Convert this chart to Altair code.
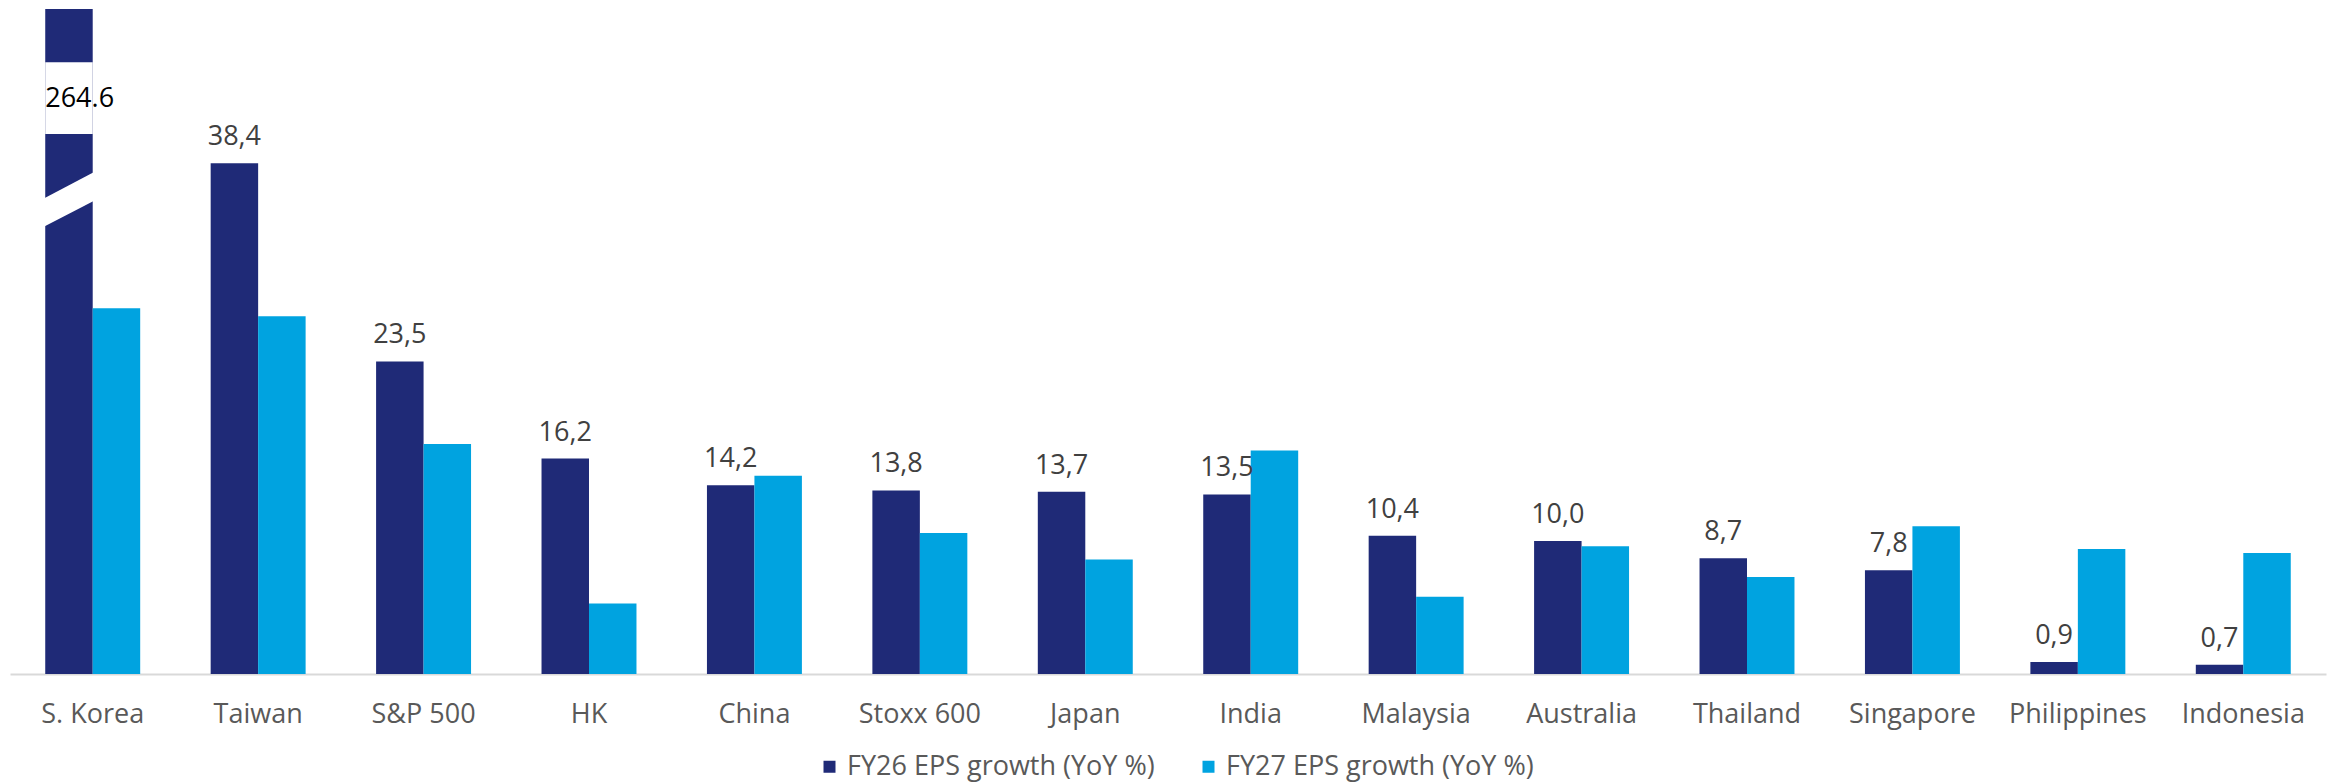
import altair as alt
import pandas as pd

countries = ["S. Korea", "Taiwan", "S&P 500", "HK", "China", "Stoxx 600", "Japan",
             "India", "Malaysia", "Australia", "Thailand", "Singapore", "Philippines", "Indonesia"]
fy26 = [264.6, 38.4, 23.5, 16.2, 14.2, 13.8, 13.7, 13.5, 10.4, 10.0, 8.7, 7.8, 0.9, 0.7]
fy27 = [27.5, 26.9, 17.3, 5.3, 14.9, 10.6, 8.6, 16.8, 5.8, 9.6, 7.3, 11.1, 9.4, 9.1]
fy26_labels = ["264.6", "38,4", "23,5", "16,2", "14,2", "13,8", "13,7", "13,5",
               "10,4", "10,0", "8,7", "7,8", "0,9", "0,7"]
series_names = ["FY26 EPS growth (YoY %)", "FY27 EPS growth (YoY %)"]
colors = ["#1f2a77", "#00a3e0"]

AXIS_MAX = 50.0          # top of the value axis; the S. Korea bar is broken above it
BREAK_GAP = (40.6, 46.0)  # white gap in the broken bar (value units)
BREAK_SLASH = 35.7        # centre of the diagonal break (value units)
BREAK_LABEL = 42.6        # baseline of the 264.6 label (value units)

W, H = 2316, 665
P_INNER = 0.426
bar_w = W / len(countries) * (1 - P_INNER) / 2

rows = []
for c, a, b, lab in zip(countries, fy26, fy27, fy26_labels):
    rows.append({"country": c, "series": series_names[0], "value": a,
                 "shown": min(a, AXIS_MAX), "label": lab})
    rows.append({"country": c, "series": series_names[1], "value": b,
                 "shown": min(b, AXIS_MAX), "label": ""})
df = pd.DataFrame(rows)

brk = pd.DataFrame([{"country": countries[0], "series": series_names[0],
                     "lo": BREAK_GAP[0], "hi": BREAK_GAP[1], "mid": BREAK_SLASH,
                     "laby": BREAK_LABEL, "label": fy26_labels[0]}])

x_enc = alt.X("country:N", sort=countries,
              scale=alt.Scale(paddingInner=P_INNER, paddingOuter=P_INNER / 2),
              axis=alt.Axis(title=None, ticks=False, labelAngle=0, labelFontSize=27,
                            labelColor="#595959", labelPadding=27, domainColor="#d9d9d9",
                            domainWidth=2, grid=False, labelFont="Open Sans"))
xo_enc = alt.XOffset("series:N", scale=alt.Scale(domain=series_names, paddingInner=0, paddingOuter=0))
y_scale = alt.Scale(domain=[0, AXIS_MAX], nice=False, clamp=True)

bars = alt.Chart(df).mark_bar().encode(
    x=x_enc, xOffset=xo_enc,
    y=alt.Y("shown:Q", scale=y_scale, axis=None),
    color=alt.Color("series:N", scale=alt.Scale(domain=series_names, range=colors),
                    legend=alt.Legend(title=None, orient="none", legendX=806, legendY=744,
                                      direction="horizontal", symbolType="square",
                                      symbolSize=144, symbolStrokeWidth=0, labelFontSize=27,
                                      labelColor="#595959", labelFont="Open Sans",
                                      labelLimit=1000, columnPadding=40, labelOffset=4,
                                      padding=0)),
)

gap = alt.Chart(brk).mark_bar(color="white").encode(
    x=x_enc, xOffset=xo_enc,
    y=alt.Y("lo:Q", scale=y_scale, axis=None), y2="hi:Q",
)

slash_path = "M -1.08 -0.02 L 1.08 -1.16 L 1.08 0.05 L -1.08 1.17 Z"
slash = alt.Chart(brk).mark_point(shape=slash_path, filled=True, color="white",
                                  opacity=1, strokeWidth=0, size=bar_w ** 2).encode(
    x=x_enc, xOffset=xo_enc,
    y=alt.Y("mid:Q", scale=y_scale, axis=None),
)

big_label = alt.Chart(brk).mark_text(align="left", baseline="alphabetic", dx=-bar_w / 2,
                                     fontSize=27, color="#000000", font="Open Sans").encode(
    x=x_enc, xOffset=xo_enc,
    y=alt.Y("laby:Q", scale=y_scale, axis=None),
    text="label:N",
)

labels = alt.Chart(df).transform_filter(
    (alt.datum.label != "") & (alt.datum.value < AXIS_MAX)
).mark_text(align="center", baseline="alphabetic", dy=-18, fontSize=27,
            color="#404040", font="Open Sans").encode(
    x=x_enc, xOffset=xo_enc,
    y=alt.Y("value:Q", scale=y_scale, axis=None),
    text="label:N",
)

chart = alt.layer(bars, gap, slash, big_label, labels).properties(
    width=W, height=H,
    autosize=alt.AutoSizeParams(type="none"),
    padding={"left": 2, "top": 1, "right": 4, "bottom": 108},
).configure(font="Open Sans").configure_view(strokeWidth=0, stroke="transparent")

chart.save("out.html", embed_options={"renderer": "svg", "actions": False})
